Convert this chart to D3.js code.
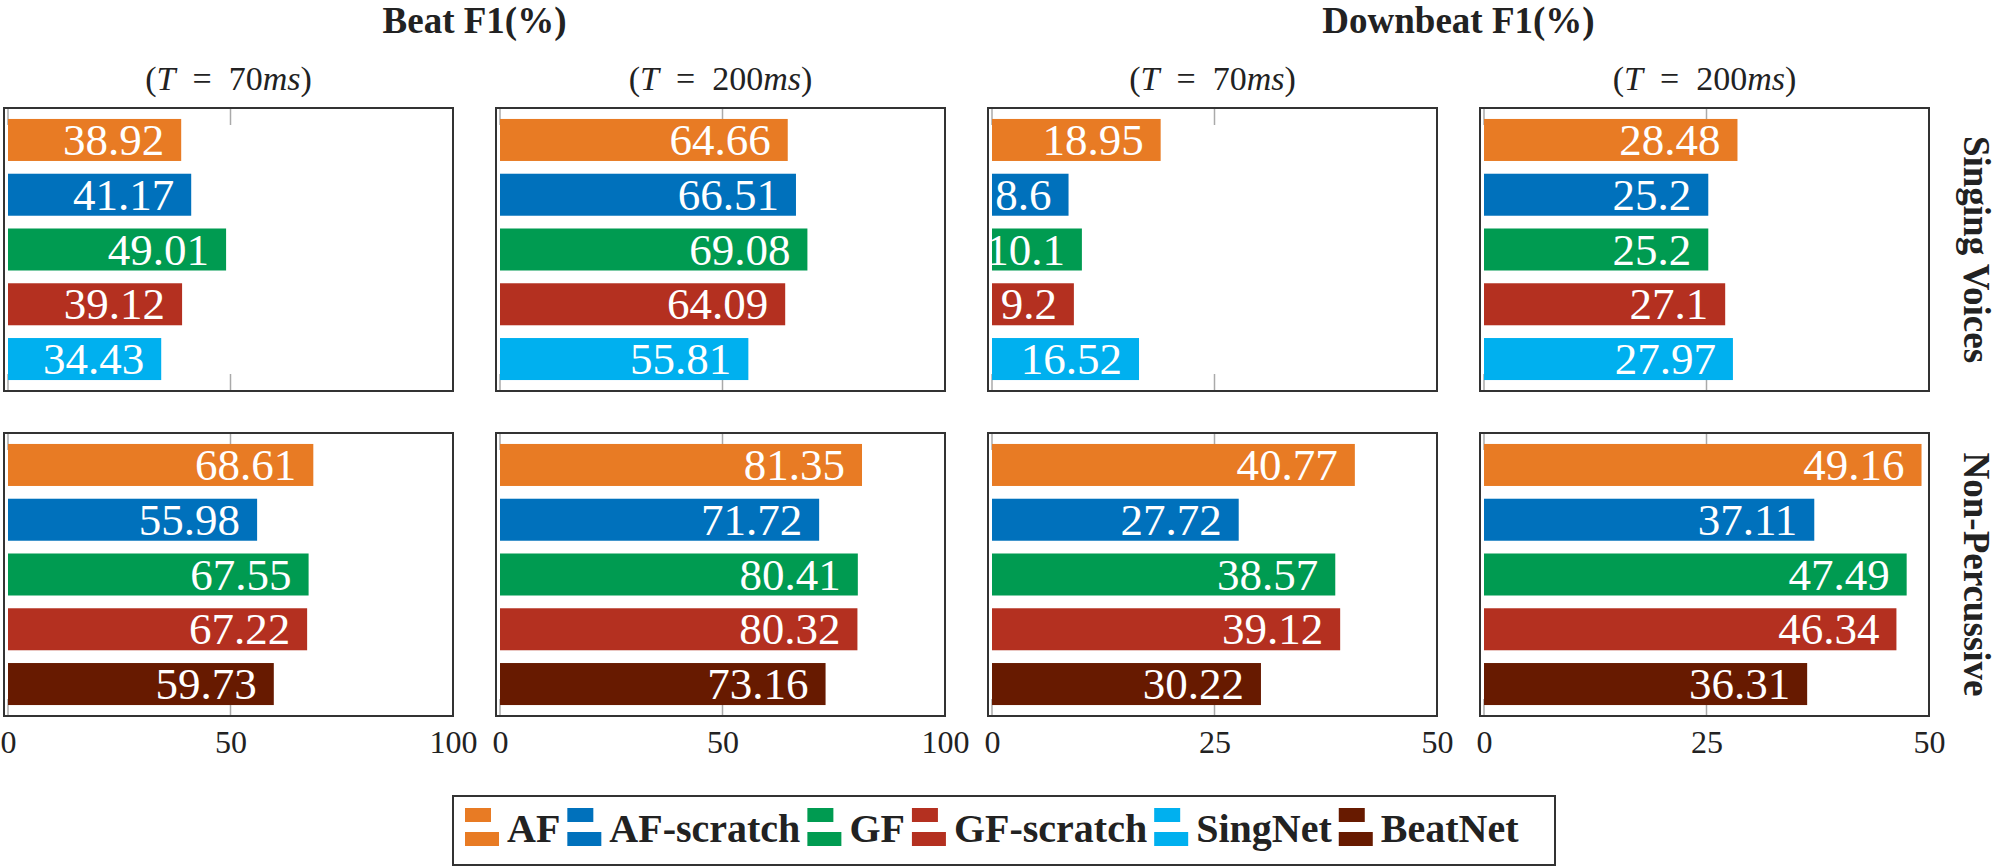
<!DOCTYPE HTML>
<html lang="en">
<head>
  <meta charset="utf-8">
  <title>Beat / Downbeat F1</title>
  <script src="https://d3js.org/d3.v7.min.js"></script>
  <style>
    body { margin: 0; background: #fff; }
    text { font-family: "Liberation Serif", "DejaVu Serif", serif; fill: #222; }
  </style>
</head>
<body>
  <div id="stage"></div>
  <script>
    // data
    var models = ["AF", "AF-scratch", "GF", "GF-scratch", "SingNet", "BeatNet"];
    var colors = ["#E87B24", "#0071BC", "#009B51", "#B43020", "#00B0EF", "#671A00"];
    var singModels = ["AF", "AF-scratch", "GF", "GF-scratch", "SingNet"];
    var percModels = ["AF", "AF-scratch", "GF", "GF-scratch", "BeatNet"];
    var thresholds = ["70", "200", "70", "200"];
    var maxVals = [100, 100, 50, 50];
    var tickVals = [[0, 50, 100], [0, 50, 100], [0, 25, 50], [0, 25, 50]];
    var groupTitles = ["Beat F1(%)", "Downbeat F1(%)"];
    var rowTitles = ["Singing Voices", "Non-Percussive"];

    // one array per panel column, order = singModels / percModels
    var singing = [
      [38.92, 41.17, 49.01, 39.12, 34.43],
      [64.66, 66.51, 69.08, 64.09, 55.81],
      [18.95, 8.6, 10.1, 9.2, 16.52],
      [28.48, 25.2, 25.2, 27.1, 27.97]
    ];
    var nonPerc = [
      [68.61, 55.98, 67.55, 67.22, 59.73],
      [81.35, 71.72, 80.41, 80.32, 73.16],
      [40.77, 27.72, 38.57, 39.12, 30.22],
      [49.16, 37.11, 47.49, 46.34, 36.31]
    ];

    function draw() {
      var W = 2000, H = 866;
      var svg = d3.select("#stage").append("svg").attr("width", W).attr("height", H);

      var color = d3.scaleOrdinal().domain(models).range(colors);
      var boxLeft = [4, 496, 988, 1480];
      var boxW = 449;
      var rows = [[108, 391], [433, 716]];
      var rowModels = [singModels, percModels];
      var rowData = [singing, nonPerc];

      // group titles
      svg.append("text").attr("x", (boxLeft[0] + boxLeft[1] + boxW) / 2).attr("y", 33)
        .attr("text-anchor", "middle").style("font-size", "37px").style("font-weight", "bold")
        .text(groupTitles[0]);
      svg.append("text").attr("x", (boxLeft[2] + boxLeft[3] + boxW) / 2).attr("y", 33)
        .attr("text-anchor", "middle").style("font-size", "37px").style("font-weight", "bold")
        .text(groupTitles[1]);

      for (var c = 0; c < 4; c++) {
        var x = d3.scaleLinear().domain([0, maxVals[c]]).range([boxLeft[c] + 4, boxLeft[c] + boxW]);

        // (T = ..ms)
        var st = svg.append("text").attr("x", boxLeft[c] + boxW / 2).attr("y", 90)
          .attr("text-anchor", "middle").style("font-size", "34px");
        st.append("tspan").text("(");
        st.append("tspan").style("font-style", "italic").text("T");
        st.append("tspan").text("\u2002=\u2002" + thresholds[c]);
        st.append("tspan").style("font-style", "italic").text("ms");
        st.append("tspan").text(")");

        for (var r = 0; r < 2; r++) {
          var rowTop = rows[r][0], rowBot = rows[r][1];
          var y = d3.scaleBand().domain(rowModels[r]).range([rowTop, rowBot])
            .paddingInner(0.233).paddingOuter(0.2);
          var g = svg.append("g");

          // small inner ticks
          tickVals[c].forEach(function (t) {
            g.append("line").attr("x1", x(t)).attr("x2", x(t)).attr("y1", rowTop).attr("y2", rowTop + 17)
              .attr("stroke", "#aaa").attr("stroke-width", 1.5);
            g.append("line").attr("x1", x(t)).attr("x2", x(t)).attr("y1", rowBot).attr("y2", rowBot - 17)
              .attr("stroke", "#aaa").attr("stroke-width", 1.5);
          });

          var vals = rowData[r][c];
          var ms = rowModels[r];
          var bars = g.selectAll(".bar").data(ms).enter();
          bars.append("rect")
            .attr("x", x(0))
            .attr("y", function (d) { return y(d); })
            .attr("width", function (d, i) { return x(vals[i]) - x(0); })
            .attr("height", y.bandwidth())
            .attr("fill", function (d) { return color(d); });
          bars.append("text")
            .attr("x", function (d, i) { return x(vals[i]) - 17; })
            .attr("y", function (d) { return y(d) + y.bandwidth() / 2 + 15; })
            .attr("text-anchor", "end")
            .style("font-size", "45px")
            .style("fill", "#fff")
            .text(function (d, i) { return String(vals[i]); });

          g.append("rect").attr("x", boxLeft[c]).attr("y", rowTop).attr("width", boxW).attr("height", rowBot - rowTop)
            .attr("fill", "none").attr("stroke", "#333").attr("stroke-width", 2);

          if (r == 1) {
            var ax = svg.append("g").attr("transform", "translate(0," + rowBot + ")")
              .call(d3.axisBottom(x).tickValues(tickVals[c]).tickSize(0).tickPadding(14));
            ax.select(".domain").remove();
            ax.selectAll("text").style("font-size", "32px")
              .style("font-family", "'Liberation Serif', serif").attr("fill", "#222");
          }
        }
      }

      // row titles on the right
      rowTitles.forEach(function (t, r) {
        svg.append("text")
          .attr("transform", "translate(1964," + (rows[r][0] + rows[r][1]) / 2 + ") rotate(90)")
          .attr("text-anchor", "middle").style("font-size", "37px").style("font-weight", "bold")
          .text(t);
      });

      // legend
      var leg = svg.append("g");
      leg.append("rect").attr("x", 453).attr("y", 796).attr("width", 1102).attr("height", 69)
        .attr("fill", "#fff").attr("stroke", "#333").attr("stroke-width", 2);
      var lx = 465;
      models.forEach(function (m) {
        leg.append("rect").attr("x", lx).attr("y", 808).attr("width", 26).attr("height", 14).attr("fill", color(m));
        leg.append("rect").attr("x", lx).attr("y", 832).attr("width", 34).attr("height", 14).attr("fill", color(m));
        var t = leg.append("text").attr("x", lx + 42).attr("y", 842)
          .style("font-size", "40px").style("font-weight", "bold").text(m);
        lx = lx + 42 + t.node().getComputedTextLength() + 7;
      });
    }
    draw();
  </script>
</body>
</html>
